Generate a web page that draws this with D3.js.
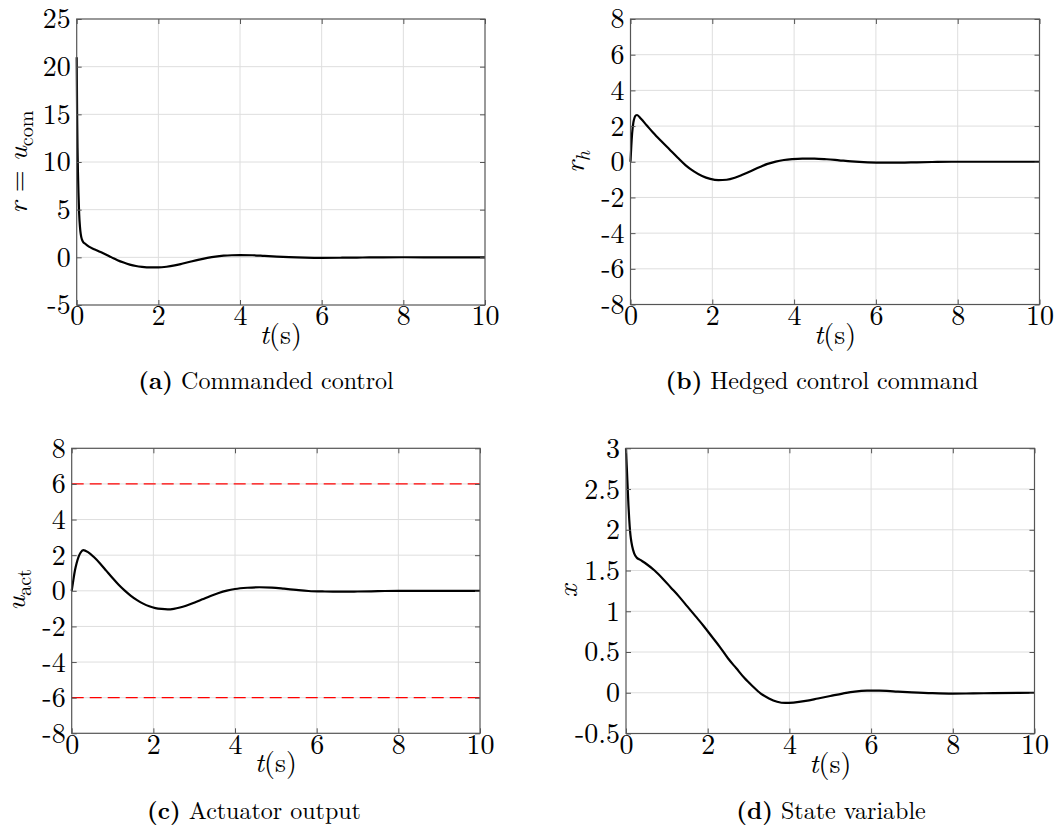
<!DOCTYPE html>
<html>
<head>
<meta charset="utf-8">
<script src="https://cdn.jsdelivr.net/npm/d3@7"></script>
<style>
  body { margin: 0; background: #fff; }
</style>
</head>
<body>
<svg id="fig" width="1056" height="836"></svg>
<script>
// ---- data -------------------------------------------------------------
const timeTicks = [0, 2, 4, 6, 8, 10];

// (a) commanded control r = u_com
const tCommanded = [0, 0.01, 0.02, 0.03, 0.045, 0.06, 0.08, 0.1, 0.13, 0.16, 0.2, 0.3, 0.4, 0.5, 0.6, 0.7, 0.8, 0.9, 1.0, 1.15, 1.3, 1.45, 1.6, 1.8, 2.0, 2.2, 2.4, 2.6, 2.8, 3.0, 3.2, 3.4, 3.6, 3.8, 4.0, 4.3, 4.6, 4.9, 5.2, 5.6, 6.0, 6.5, 7.0, 7.5, 8.0, 9.0, 10.0];
const commanded  = [21, 15, 11.5, 9, 6.5, 4.6, 3.2, 2.4, 1.85, 1.6, 1.45, 1.12, 0.9, 0.72, 0.53, 0.33, 0.12, -0.1, -0.3, -0.55, -0.76, -0.91, -1.0, -1.06, -1.06, -0.99, -0.85, -0.65, -0.44, -0.24, -0.06, 0.08, 0.17, 0.22, 0.24, 0.22, 0.15, 0.08, 0.02, -0.03, -0.05, -0.04, -0.02, 0.0, 0.01, 0.0, 0.0];

// (b) hedged control command r_h
const tHedged = [0, 0.02, 0.04, 0.07, 0.1, 0.13, 0.16, 0.25, 0.4, 0.55, 0.75, 0.95, 1.15, 1.35, 1.55, 1.75, 1.95, 2.15, 2.35, 2.55, 2.75, 2.95, 3.15, 3.35, 3.55, 3.75, 3.95, 4.2, 4.5, 4.8, 5.1, 5.4, 5.8, 6.2, 6.6, 7.0, 7.5, 8.0, 9.0, 10.0];
const hedged  = [0, 0.9, 1.6, 2.2, 2.48, 2.6, 2.62, 2.42, 2.03, 1.64, 1.16, 0.7, 0.24, -0.2, -0.54, -0.8, -0.96, -1.03, -1.01, -0.9, -0.72, -0.52, -0.31, -0.12, 0.01, 0.1, 0.15, 0.18, 0.18, 0.14, 0.08, 0.02, -0.03, -0.05, -0.05, -0.03, -0.01, 0.0, 0.0, 0.0];

// (c) actuator output u_act and its saturation limits
const tActuator = [0, 0.04, 0.08, 0.12, 0.17, 0.22, 0.28, 0.4, 0.55, 0.7, 0.85, 1.0, 1.15, 1.3, 1.45, 1.6, 1.75, 1.9, 2.05, 2.2, 2.35, 2.5, 2.65, 2.8, 3.0, 3.2, 3.4, 3.6, 3.8, 4.0, 4.3, 4.6, 4.9, 5.2, 5.5, 5.8, 6.2, 6.6, 7.0, 7.5, 8.0, 9.0, 10.0];
const actuator  = [0, 0.6, 1.15, 1.55, 1.92, 2.15, 2.28, 2.17, 1.88, 1.52, 1.12, 0.72, 0.34, 0.01, -0.28, -0.52, -0.72, -0.87, -0.97, -1.02, -1.04, -1.01, -0.94, -0.84, -0.67, -0.48, -0.29, -0.12, 0.01, 0.1, 0.17, 0.2, 0.18, 0.12, 0.05, -0.01, -0.04, -0.05, -0.04, -0.02, 0.0, 0.0, 0.0];
const actuatorLimits = [6, -6];

// (d) state variable x
const tState = [0, 0.01, 0.02, 0.04, 0.06, 0.08, 0.1, 0.12, 0.15, 0.2, 0.26, 0.35, 0.5, 0.7, 0.9, 1.1, 1.3, 1.5, 1.7, 1.9, 2.1, 2.3, 2.5, 2.7, 2.9, 3.1, 3.3, 3.5, 3.7, 3.9, 4.1, 4.4, 4.7, 5.0, 5.3, 5.6, 5.9, 6.2, 6.6, 7.0, 7.5, 8.0, 8.5, 9.0, 10.0];
const state  = [3.0, 2.87, 2.76, 2.53, 2.3, 2.12, 1.98, 1.89, 1.8, 1.71, 1.66, 1.63, 1.58, 1.5, 1.4, 1.29, 1.18, 1.06, 0.94, 0.82, 0.69, 0.56, 0.42, 0.3, 0.18, 0.08, -0.01, -0.07, -0.11, -0.125, -0.12, -0.1, -0.07, -0.04, -0.01, 0.015, 0.025, 0.025, 0.015, 0.005, -0.005, -0.01, -0.008, -0.004, 0.0];

const ticksCommanded = [-5, 0, 5, 10, 15, 20, 25];
const ticksHedged    = [-8, -6, -4, -2, 0, 2, 4, 6, 8];
const ticksActuator  = [-8, -6, -4, -2, 0, 2, 4, 6, 8];
const ticksState     = [-0.5, 0, 0.5, 1, 1.5, 2, 2.5, 3];

const captionTags  = ["(a)", "(b)", "(c)", "(d)"];
const captionTexts = ["Commanded control", "Hedged control command", "Actuator output", "State variable"];

// ---- layout -----------------------------------------------------------
const FAMILY = '"Latin Modern Roman", "CMU Serif", "Liberation Serif", serif';
const FONT = 28;
const CAPTION_FONT = 24;
const gridColor = "#dedede";
const axisColor = "#555";

const panels = [
  { t: tCommanded, v: commanded, yTicks: ticksCommanded,
    left: 76.7, right: 485, top: 19, bottom: 305,
    capX: 266, capY: 389, ylab: { x: 27, y: 162, parts: [["r", "i"], [" = ", "n"], ["u", "i"], ["com", "s"]] } },
  { t: tHedged, v: hedged, yTicks: ticksHedged,
    left: 630.5, right: 1039.5, top: 19, bottom: 304.5,
    capX: 822, capY: 389, ylab: { x: 584, y: 162, parts: [["r", "i"], ["h", "si"]] } },
  { t: tActuator, v: actuator, yTicks: ticksActuator, limits: actuatorLimits,
    left: 71.7, right: 480, top: 448.3, bottom: 733.3,
    capX: 254, capY: 819, ylab: { x: 25, y: 590, parts: [["u", "i"], ["act", "s"]] } },
  { t: tState, v: state, yTicks: ticksState,
    left: 626, right: 1034.5, top: 448.3, bottom: 733.5,
    capX: 831, capY: 819, ylab: { x: 577, y: 591, parts: [["x", "i"]] } }
];

const svg = d3.select("#fig");

function styleAxis(sel) {
  sel.select(".domain").remove();
  sel.attr("font-family", null).attr("font-size", null);
  sel.selectAll(".tick line").attr("stroke", axisColor).attr("stroke-width", 1);
  sel.selectAll(".tick text")
    .style("font-family", FAMILY).style("font-size", FONT + "px").attr("fill", "#000");
}

panels.forEach((p, i) => {
  const g = svg.append("g");
  const x = d3.scaleLinear().domain([0, 10]).range([p.left, p.right]);
  const y = d3.scaleLinear().domain(d3.extent(p.yTicks)).range([p.bottom, p.top]);

  // grid
  g.append("g").selectAll("line").data(timeTicks.slice(1, -1)).join("line")
    .attr("x1", d => x(d)).attr("x2", d => x(d))
    .attr("y1", p.top).attr("y2", p.bottom)
    .attr("stroke", gridColor).attr("stroke-width", 1);
  g.append("g").selectAll("line").data(p.yTicks.slice(1, -1)).join("line")
    .attr("y1", d => y(d)).attr("y2", d => y(d))
    .attr("x1", p.left).attr("x2", p.right)
    .attr("stroke", gridColor).attr("stroke-width", 1);

  // saturation limits
  if (p.limits) {
    g.append("g").selectAll("line").data(p.limits).join("line")
      .attr("x1", p.left).attr("x2", p.right)
      .attr("y1", d => y(d)).attr("y2", d => y(d))
      .attr("stroke", "#ff0000").attr("stroke-width", 1.2)
      .attr("stroke-dasharray", "12,6");
  }

  // signal
  const pts = p.t.map((t, k) => [t, p.v[k]]);
  g.append("path").datum(pts)
    .attr("fill", "none").attr("stroke", "#000").attr("stroke-width", 2.2)
    .attr("stroke-linejoin", "round")
    .attr("d", d3.line().x(d => x(d[0])).y(d => y(d[1])).curve(d3.curveMonotoneX));

  // axes with inward ticks on all four sides
  g.append("g").attr("transform", `translate(0,${p.bottom})`)
    .call(d3.axisBottom(x).tickValues(timeTicks).tickSize(-5).tickPadding(0.5).tickFormat(d3.format("d")))
    .call(styleAxis);
  g.append("g").attr("transform", `translate(0,${p.top})`)
    .call(d3.axisTop(x).tickValues(timeTicks).tickSize(-5).tickFormat(""))
    .call(styleAxis);
  g.append("g").attr("transform", `translate(${p.left},0)`)
    .call(d3.axisLeft(y).tickValues(p.yTicks).tickSize(-5).tickPadding(6).tickFormat(d => String(d)))
    .call(styleAxis);
  g.append("g").attr("transform", `translate(${p.right},0)`)
    .call(d3.axisRight(y).tickValues(p.yTicks).tickSize(-5).tickFormat(""))
    .call(styleAxis);

  g.append("rect")
    .attr("x", p.left).attr("y", p.top)
    .attr("width", p.right - p.left).attr("height", p.bottom - p.top)
    .attr("fill", "none").attr("stroke", axisColor).attr("stroke-width", 1.2);

  // x label t(s)
  const xl = g.append("text")
    .attr("x", (p.left + p.right) / 2).attr("y", p.bottom + 39)
    .attr("text-anchor", "middle")
    .style("font-family", FAMILY).style("font-size", FONT + "px");
  xl.append("tspan").style("font-style", "italic").text("t");
  xl.append("tspan").text("(s)");

  // y label
  const yl = g.append("text")
    .attr("transform", `translate(${p.ylab.x},${p.ylab.y}) rotate(-90)`)
    .attr("text-anchor", "middle")
    .style("font-family", FAMILY).style("font-size", FONT + "px");
  p.ylab.parts.forEach(([s, kind]) => {
    const ts = yl.append("tspan").text(s);
    if (kind === "i" || kind === "si") ts.style("font-style", "italic");
    if (kind === "s" || kind === "si") ts.style("font-size", Math.round(FONT * 0.7) + "px").attr("dy", 6);
  });

  // caption
  const cap = svg.append("text")
    .attr("x", p.capX).attr("y", p.capY)
    .attr("text-anchor", "middle")
    .style("font-family", FAMILY).style("font-size", CAPTION_FONT + "px");
  cap.append("tspan").style("font-weight", "bold").text(captionTags[i]);
  cap.append("tspan").text(" " + captionTexts[i]);
});
</script>
</body>
</html>
